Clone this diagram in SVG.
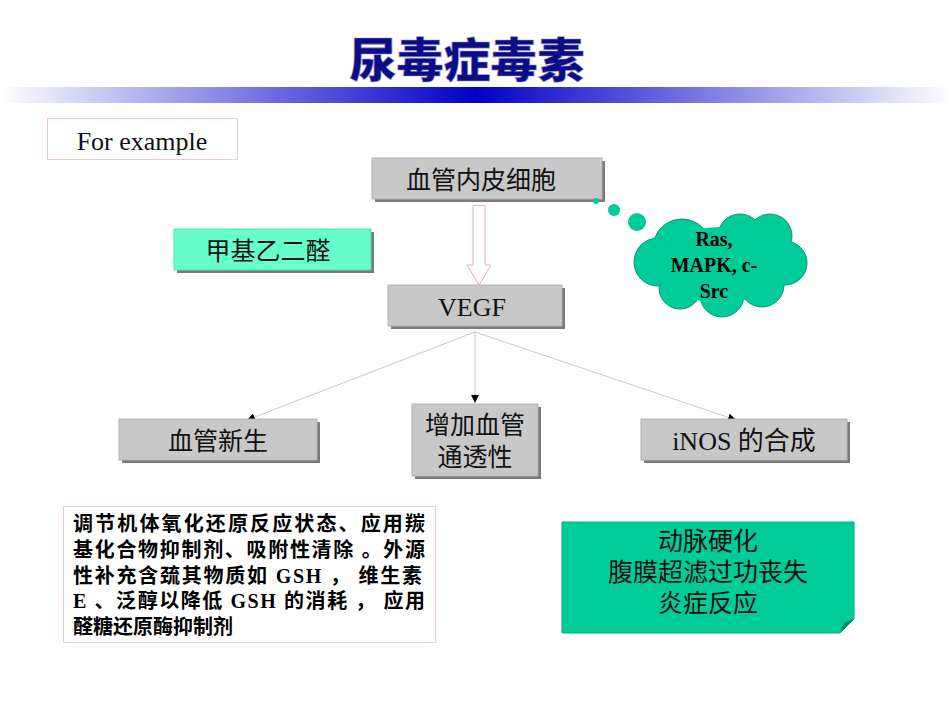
<svg xmlns="http://www.w3.org/2000/svg" width="950" height="713" viewBox="0 0 950 713">
<defs>
<linearGradient id="bar" x1="0" y1="0" x2="1" y2="0">
<stop offset="0" stop-color="#ffffff"/>
<stop offset="0.5" stop-color="#0000c8"/>
<stop offset="1" stop-color="#ffffff"/>
</linearGradient>
<marker id="ah" viewBox="0 0 10 10" refX="10" refY="5" markerWidth="8" markerHeight="8" orient="auto" markerUnits="userSpaceOnUse">
<path d="M0,0 L10,5 L0,10 Z" fill="#000"/>
</marker>
</defs>
<style>
.box{fill:#c8c8c8;stroke:#b4b4b4;stroke-width:1}
.sh{fill:#7a7a7a}
.t{font-family:"Liberation Serif","Noto Sans CJK SC",serif;font-size:26px;fill:#111;text-anchor:middle}
.cn{font-family:"Noto Sans CJK SC","Liberation Serif",serif;font-size:25px;fill:#111;text-anchor:middle}
.b{font-family:"Liberation Serif","Noto Sans CJK SC",serif;font-size:20px;font-weight:bold;fill:#000}
.conn{stroke:#c8c8c8;stroke-width:1;fill:none}
</style>
<rect width="950" height="713" fill="#fff"/>
<g id="title">
<text x="467" y="77" font-family="'Noto Sans CJK SC',sans-serif" font-size="47" font-weight="900" fill="#0c0c86" stroke="#9090c0" stroke-width="0.6" text-anchor="middle">尿毒症毒素</text>
<rect x="0" y="87" width="950" height="16" fill="url(#bar)"/>
</g>
<g id="for-example">
<rect x="47.5" y="118.5" width="190" height="41" fill="#fff" stroke="#f0cccc"/>
<text x="142" y="150" class="t">For example</text>
</g>
<g id="connectors">
<path d="M473,205.5 H485 V265 H491 L479,285 L467,265 H473 Z" fill="#fff" stroke="#eab0b0" stroke-width="1"/>
<line x1="475" y1="332" x2="247" y2="420" class="conn" marker-end="url(#ah)"/>
<line x1="475" y1="332" x2="475" y2="403" class="conn" marker-end="url(#ah)"/>
<line x1="475" y1="332" x2="736" y2="420" class="conn" marker-end="url(#ah)"/>
</g>
<g id="endothelial">
<rect x="375" y="161" width="230" height="41" class="sh"/>
<rect x="372" y="158" width="230" height="41" class="box"/>
<text x="481" y="189" class="cn">血管内皮细胞</text>
</g>
<g id="methylglyoxal">
<rect x="177" y="232" width="197" height="41" class="sh"/>
<rect x="174" y="229" width="197" height="41" fill="#66ffcc" stroke="#55ddb0"/>
<text x="268" y="260" class="cn">甲基乙二醛</text>
</g>
<g id="vegf">
<rect x="391" y="288" width="174" height="41" class="sh"/>
<rect x="388" y="285" width="174" height="41" class="box"/>
<text x="472" y="316" class="t">VEGF</text>
</g>
<g id="cloud">
<circle cx="596" cy="201" r="3" fill="#00cc99"/>
<circle cx="614" cy="210" r="6" fill="#00cc99"/>
<circle cx="637" cy="222" r="9" fill="#00cc99"/>
<g fill="#00cc99" stroke="#009977" stroke-width="1">
<circle cx="682" cy="248" r="29"/>
<circle cx="740" cy="236" r="22"/>
<circle cx="770" cy="236" r="22"/>
<circle cx="785" cy="263" r="22"/>
<circle cx="762" cy="285" r="22"/>
<circle cx="722" cy="295" r="22"/>
<circle cx="680" cy="288" r="21"/>
<circle cx="658" cy="262" r="24"/>
</g>
<g fill="#00cc99">
<circle cx="682" cy="248" r="28"/>
<circle cx="740" cy="236" r="21"/>
<circle cx="770" cy="236" r="21"/>
<circle cx="785" cy="263" r="21"/>
<circle cx="762" cy="285" r="21"/>
<circle cx="722" cy="295" r="21"/>
<circle cx="680" cy="288" r="20"/>
<circle cx="658" cy="262" r="23"/>
<ellipse cx="720" cy="265" rx="62" ry="38"/>
</g>
<text class="b" text-anchor="middle"><tspan x="714" y="246">Ras,</tspan><tspan x="714" y="272">MAPK, c-</tspan><tspan x="714" y="298">Src</tspan></text>
</g>
<g id="angiogenesis">
<rect x="122" y="422" width="198" height="41" class="sh"/>
<rect x="119" y="419" width="198" height="41" class="box"/>
<text x="218" y="450" class="cn">血管新生</text>
</g>
<g id="permeability">
<rect x="415" y="407" width="126" height="72" class="sh"/>
<rect x="412" y="404" width="126" height="72" class="box"/>
<text class="cn"><tspan x="475" y="434">增加血管</tspan><tspan x="475" y="466">通透性</tspan></text>
</g>
<g id="inos">
<rect x="644" y="422" width="206" height="41" class="sh"/>
<rect x="641" y="419" width="206" height="41" class="box"/>
<text x="744" y="450" class="t">iNOS 的合成</text>
</g>
<g id="treatment">
<rect x="63.5" y="506.5" width="372" height="136" fill="#fff" stroke="#f0cccc"/>
<text class="b"><tspan x="73" y="531" textLength="352" lengthAdjust="spacing">调节机体氧化还原反应状态、应用羰</tspan><tspan x="73" y="557" textLength="352" lengthAdjust="spacing">基化合物抑制剂、吸附性清除 。外源</tspan><tspan x="73" y="583" textLength="349" lengthAdjust="spacing">性补充含巯其物质如 GSH ， 维生素</tspan><tspan x="73" y="608" textLength="352" lengthAdjust="spacing">E 、泛醇以降低 GSH 的消耗 ， 应用</tspan><tspan x="73" y="634">醛糖还原酶抑制剂</tspan></text>
</g>
<g id="complications">
<path d="M562,522 H854 V619 L840,633 H562 Z" fill="#00cc99" stroke="#00b088"/>
<path d="M840,633 L844,623 L854,619 Z" fill="#008866"/>
<text class="cn"><tspan x="708" y="550">动脉硬化</tspan><tspan x="708" y="581">腹膜超滤过功丧失</tspan><tspan x="708" y="612">炎症反应</tspan></text>
</g>
</svg>
